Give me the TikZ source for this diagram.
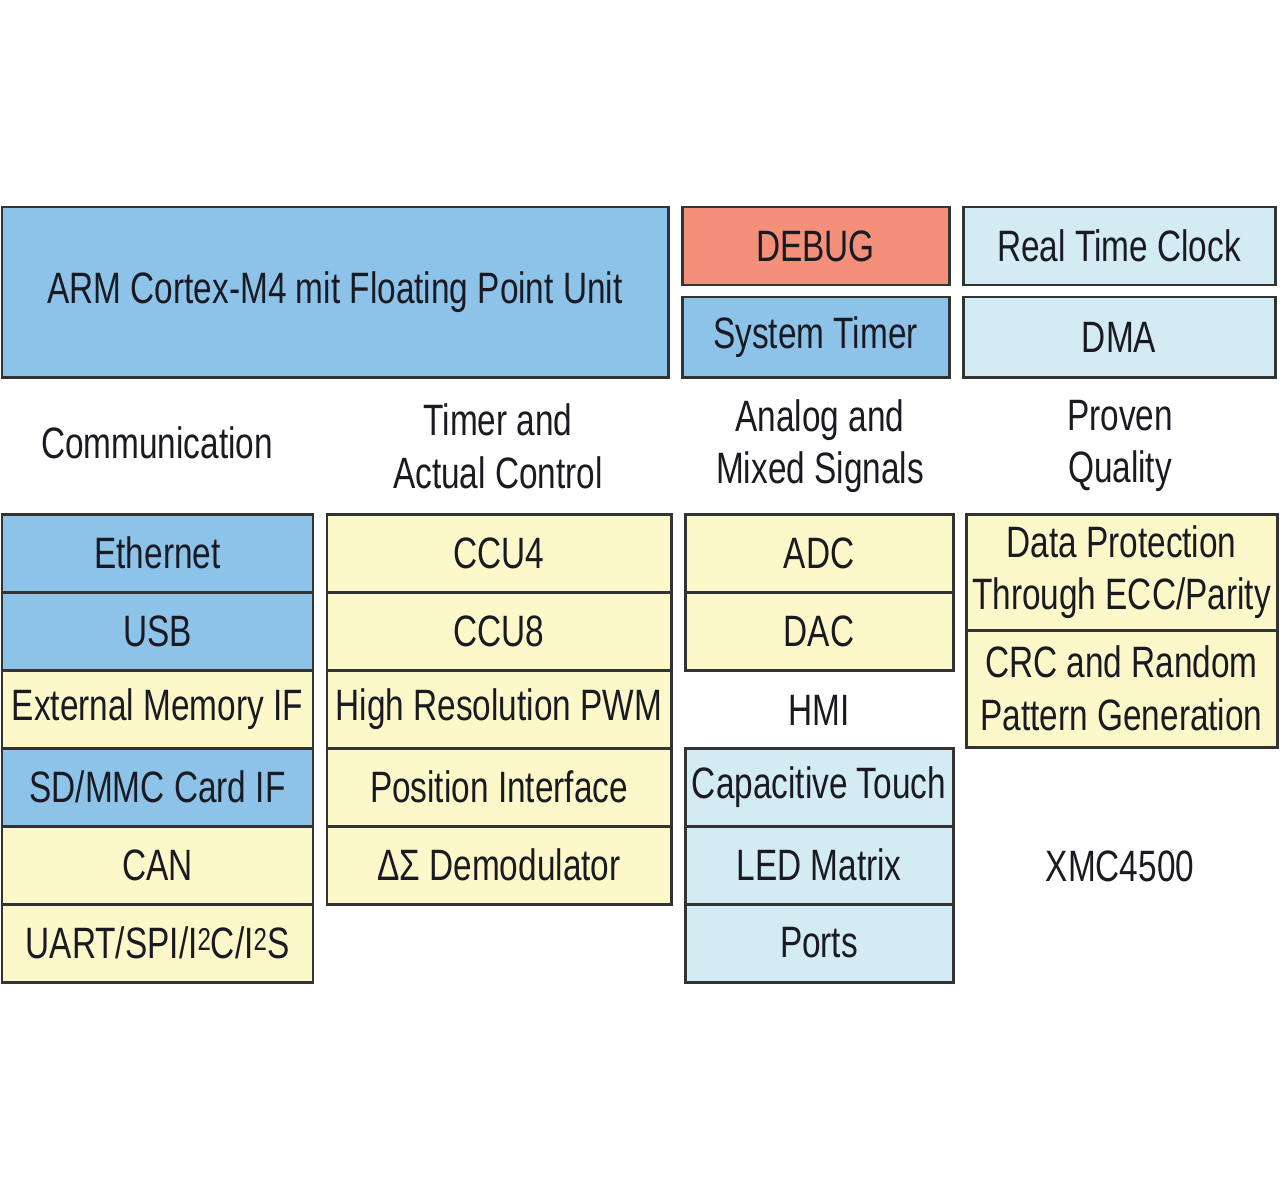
\documentclass[tikz,border=0pt]{standalone}
\usepackage{fontspec}
\setmainfont{Liberation Sans}[FakeStretch=0.76]
\usepackage{tikz}

\definecolor{armblue}{HTML}{8DC3E9}
\definecolor{paleblue}{HTML}{D3EBF2}
\definecolor{dbgred}{HTML}{F4907A}
\definecolor{paleyellow}{HTML}{FDF8CA}
\definecolor{edge}{HTML}{333333}
\definecolor{ink}{HTML}{1A1A22}

\begin{document}
\begin{tikzpicture}[x=0.02cm,y=-0.02cm,
    font=\fontsize{25}{30}\selectfont, text=ink,
    blk/.style 2 args={draw=edge, line width=1.7pt, inner sep=0pt, outer sep=0pt,
        align=center, minimum width=#1*0.02cm, minimum height=#2*0.02cm},
    core/.style={fill=armblue},
    peri/.style={fill=paleblue},
    soft/.style={fill=paleyellow},
    dbg/.style={fill=dbgred},
    head/.style={align=center}]
    \useasboundingbox (0,0) rectangle (1280,1190);

    \node[blk={666}{170}, core] (arm) at (335,292) {ARM Cortex-M4 mit Floating Point Unit};
    \node[blk={267}{78}, dbg] (debug) at (815.5,246) {DEBUG};
    \node[blk={267}{80}, core] (systimer) at (815.5,337) {System Timer};
    \node[blk={312}{78}, peri] (rtc) at (1119,246) {Real Time Clock};
    \node[blk={312}{80}, peri] (dma) at (1119,337) {DMA};

    \node[head] (hcomm) at (157,443) {Communication};
    \node[head] (htimer) at (498,446) {Timer and\\Actual Control};
    \node[head] (hanalog) at (820,446) {Analog and\\Mixed Signals};
    \node[head] (hquality) at (1120,446) {Proven\\Quality};

    \node[blk={311}{78}, core] (eth) at (157.5,553) {Ethernet};
    \node[blk={311}{78}, core] (usb) at (157.5,631) {USB};
    \node[blk={311}{78}, soft] (extmem) at (157.5,709) {External Memory IF};
    \node[blk={311}{78}, core] (sdmmc) at (157.5,787) {SD/MMC Card IF};
    \node[blk={311}{78}, soft] (can) at (157.5,865) {CAN};
    \node[blk={311}{78}, soft] (uart) at (157.5,943) {UART/SPI/I\raisebox{0.35ex}{\fontsize{18}{20}\selectfont 2}C/I\raisebox{0.35ex}{\fontsize{18}{20}\selectfont 2}S};

    \node[blk={344}{78}, soft] (ccu4) at (499,553) {CCU4};
    \node[blk={344}{78}, soft] (ccu8) at (499,631) {CCU8};
    \node[blk={344}{78}, soft] (hrpwm) at (499,709) {High Resolution PWM};
    \node[blk={344}{78}, soft] (posif) at (499,787) {Position Interface};
    \node[blk={344}{78}, soft] (dsd) at (499,865) {ΔΣ Demodulator};

    \node[blk={268}{78}, soft] (adc) at (819,553) {ADC};
    \node[blk={268}{78}, soft] (dac) at (819,631) {DAC};
    \node (hmi) at (819,710) {HMI};
    \node[blk={268}{78}, peri] (captouch) at (819,787) {Capacitive Touch};
    \node[blk={268}{78}, peri] (ledmtx) at (819,865) {LED Matrix};
    \node[blk={268}{78}, peri] (ports) at (819,943) {Ports};

    \node[blk={311}{116}, soft] (dataprot) at (1121.5,572) {Data Protection\\Through ECC/Parity};
    \node[blk={311}{117}, soft] (crc) at (1121.5,688.5) {CRC and Random\\Pattern Generation};
    \node (xmc) at (1120,866) {XMC4500};
\end{tikzpicture}
\end{document}
